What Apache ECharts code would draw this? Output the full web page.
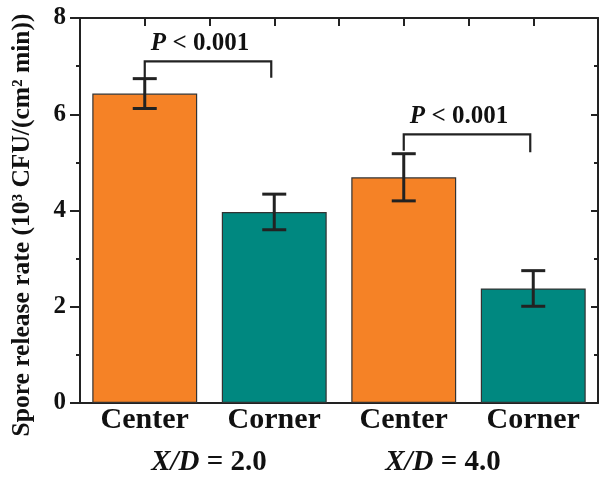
<!DOCTYPE html>
<html>
<head>
<meta charset="utf-8">
<script src="https://cdn.jsdelivr.net/npm/echarts@6/dist/echarts.min.js"></script>
<style>html,body{margin:0;padding:0;background:#fff;}#c{width:600px;height:481px;}</style>
</head>
<body>
<div id="c"></div>
<script>
const categories = ['Center', 'Corner', 'Center', 'Corner'];
const values = [6.43, 3.97, 4.69, 2.38];
const errors = [0.31, 0.37, 0.49, 0.37];
const barColors = ['#F58226', '#008880', '#F58226', '#008880'];
const yTicks = [0, 2, 4, 6, 8];
const topSlots = ['a', 'b', 'c', 'd', 'e', 'f', 'g', 'h'];
const groupLabels = ['X/D', 'X/D'];
const groupValues = ['= 2.0', '= 4.0'];
// brackets: [leftIdx, rightIdx, topY, leftBottomY, rightBottomY]
const brackets = [[0, 1, 7.1, 6.75, 6.76], [2, 3, 5.58, 5.24, 5.21]];
const pText = 'P';
const pRest = ' < 0.001';

const FONT = '"Liberation Serif", "Times New Roman", serif';
const chart = echarts.init(document.getElementById('c'));

chart.setOption({
  animation: false,
  grid: { left: 80, right: 2, top: 18, bottom: 78, containLabel: false, outerBoundsMode: 'none' },
  xAxis: [
    {
      type: 'category', data: categories, position: 'bottom',
      axisLine: { onZero: false, lineStyle: { color: '#222', width: 2 } },
      axisTick: { show: false },
      axisLabel: { fontFamily: FONT, fontWeight: 'bold', fontSize: 30, color: '#111', margin: 2 }
    },
    {
      type: 'category', data: topSlots, position: 'top',
      axisLine: { show: true, onZero: false, lineStyle: { color: '#222', width: 2 } },
      axisTick: { show: true, inside: true, interval: 0, length: 8, lineStyle: { color: '#222', width: 2 } },
      axisLabel: { show: true, interval: 0, formatter: () => '' }, splitLine: { show: false }
    }
  ],
  yAxis: [
    {
      type: 'value', min: 0, max: 8, interval: 2, position: 'left',
      axisLine: { show: true, onZero: false, lineStyle: { color: '#222', width: 2 } },
      axisTick: { show: true, inside: false, length: 10, lineStyle: { color: '#222', width: 2 } },
      minorTick: { show: true, splitNumber: 2, length: 4, lineStyle: { color: '#222', width: 2 } },
      axisLabel: { fontFamily: FONT, fontWeight: 'bold', fontSize: 25, color: '#111', margin: 14,
        formatter: v => yTicks.includes(v) ? String(v) : '' },
      splitLine: { show: false }
    },
    {
      type: 'value', min: 0, max: 8, interval: 2, position: 'right',
      axisLine: { show: true, onZero: false, lineStyle: { color: '#222', width: 2 } },
      axisTick: { show: true, inside: true, length: 7, lineStyle: { color: '#222', width: 2 } },
      minorTick: { show: true, splitNumber: 2, length: 4, lineStyle: { color: '#222', width: 2 } },
      axisLabel: { show: true, formatter: () => '' }, splitLine: { show: false }
    }
  ],
  graphic: [
    {
      type: 'text', x: 22, y: 225, rotation: Math.PI / 2, originX: 0, originY: 0,
      style: {
        text: 'Spore release rate (10³ CFU/(cm² min))',
        fontFamily: FONT, fontWeight: 'bold', fontSize: 25.5, fill: '#111',
        align: 'center', verticalAlign: 'middle'
      }
    },
    {
      type: 'text', x: 209, y: 463,
      style: {
        text: '{i|' + groupLabels[0] + '}{n| ' + groupValues[0] + '}',
        align: 'center', verticalAlign: 'middle',
        rich: {
          i: { fontFamily: FONT, fontWeight: 'bold', fontStyle: 'italic', fontSize: 29, fill: '#111' },
          n: { fontFamily: FONT, fontWeight: 'bold', fontSize: 29, fill: '#111' }
        }
      }
    },
    {
      type: 'text', x: 443, y: 463,
      style: {
        text: '{i|' + groupLabels[1] + '}{n| ' + groupValues[1] + '}',
        align: 'center', verticalAlign: 'middle',
        rich: {
          i: { fontFamily: FONT, fontWeight: 'bold', fontStyle: 'italic', fontSize: 29, fill: '#111' },
          n: { fontFamily: FONT, fontWeight: 'bold', fontSize: 29, fill: '#111' }
        }
      }
    }
  ],
  series: [
    {
      type: 'bar', xAxisIndex: 0, yAxisIndex: 0, barWidth: '81%',
      data: values.map((v, i) => ({ value: v, itemStyle: { color: barColors[i] } })),
      itemStyle: { borderColor: '#333', borderWidth: 1.2 }
    },
    {
      type: 'custom', xAxisIndex: 0, yAxisIndex: 0, z: 5,
      data: values.map((v, i) => [i, v - errors[i], v + errors[i]]),
      renderItem: function (params, api) {
        const lo = api.coord([api.value(0), api.value(1)]);
        const hi = api.coord([api.value(0), api.value(2)]);
        const hw = 12;
        const st = { stroke: '#222', lineWidth: 3, fill: null };
        return {
          type: 'group', children: [
            { type: 'line', shape: { x1: lo[0], y1: lo[1], x2: hi[0], y2: hi[1] }, style: st },
            { type: 'line', shape: { x1: lo[0] - hw, y1: lo[1], x2: lo[0] + hw, y2: lo[1] }, style: st },
            { type: 'line', shape: { x1: hi[0] - hw, y1: hi[1], x2: hi[0] + hw, y2: hi[1] }, style: st }
          ]
        };
      }
    },
    {
      type: 'custom', xAxisIndex: 0, yAxisIndex: 0, z: 5,
      data: brackets,
      renderItem: function (params, api) {
        const l = api.coord([api.value(0), api.value(2)]);
        const r = api.coord([api.value(1), api.value(2)]);
        const lb = api.coord([api.value(0), api.value(3)]);
        const rb = api.coord([api.value(1), api.value(4)]);
        const rx = r[0] - 3;
        return {
          type: 'group', children: [
            { type: 'polyline', shape: { points: [[lb[0], lb[1]], [l[0], l[1]], [rx, r[1]], [rx, rb[1]]] },
              style: { stroke: '#222', lineWidth: 2.2, fill: null } },
            { type: 'text', x: (l[0] + rx) / 2 - 8, y: l[1] - 18,
              style: {
                text: '{i|' + pText + '}{n|' + pRest + '}',
                align: 'center', verticalAlign: 'middle',
                rich: {
                  i: { fontFamily: FONT, fontWeight: 'bold', fontStyle: 'italic', fontSize: 25, fill: '#111' },
                  n: { fontFamily: FONT, fontWeight: 'bold', fontSize: 25, fill: '#111' }
                }
              } }
          ]
        };
      }
    }
  ]
});
</script>
</body>
</html>
